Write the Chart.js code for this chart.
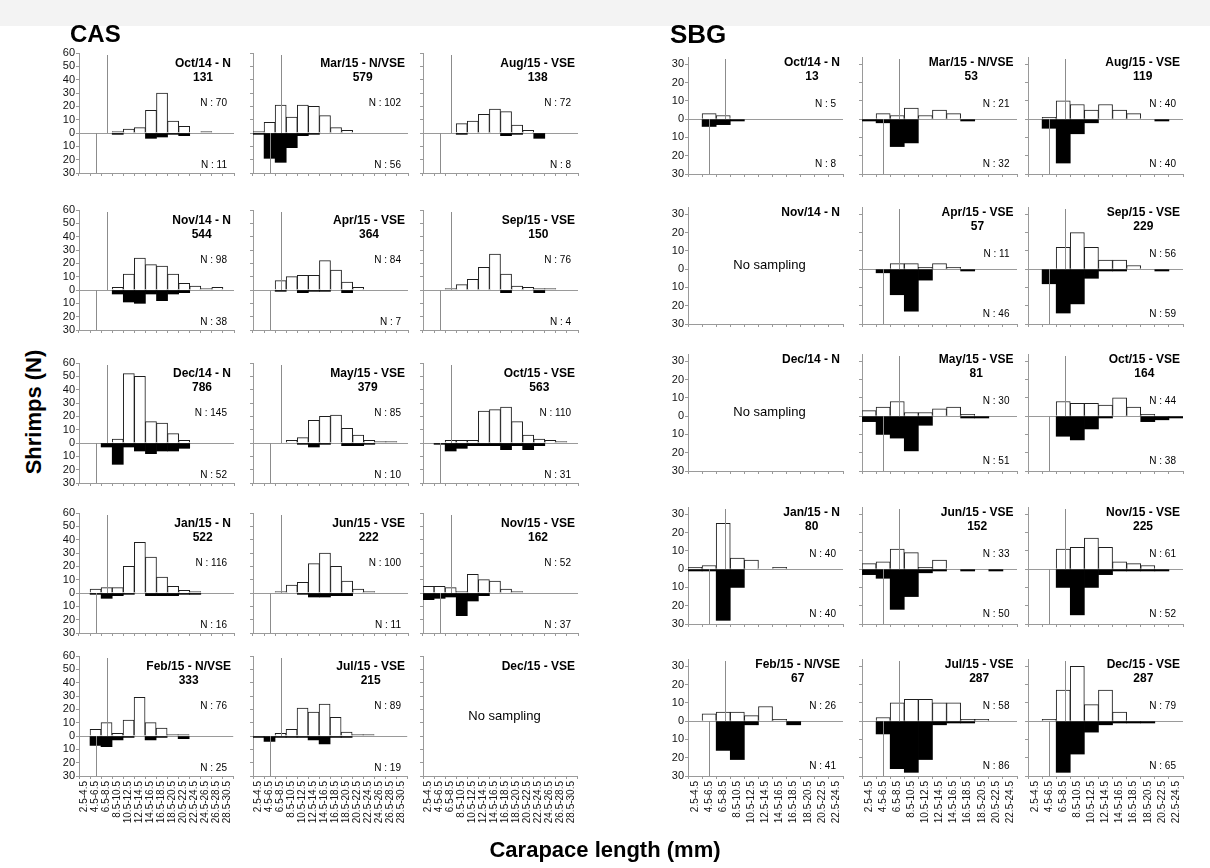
<!DOCTYPE html>
<html><head><meta charset="utf-8">
<script src="https://cdn.jsdelivr.net/npm/chart.js@4.4.1/dist/chart.umd.min.js"></script>
<style>
html,body{margin:0;padding:0}
body{width:1210px;height:868px;position:relative;background:#fff;overflow:hidden;font-family:"Liberation Sans",Arial,sans-serif;color:#000}
canvas{position:absolute}
.t{position:absolute;white-space:nowrap}
</style></head><body>
<div style="position:absolute;left:0;top:0;width:1210px;height:26px;background:#f3f3f3"></div>
<script>
// ---------- categories / ticks ----------
const casBins = ['2.5-4.5','4.5-6.5','6.5-8.5','8.5-10.5','10.5-12.5','12.5-14.5','14.5-16.5','16.5-18.5','18.5-20.5','20.5-22.5','22.5-24.5','24.5-26.5','26.5-28.5','28.5-30.5'];
const sbgBins = ['2.5-4.5','4.5-6.5','6.5-8.5','8.5-10.5','10.5-12.5','12.5-14.5','14.5-16.5','16.5-18.5','18.5-20.5','20.5-22.5','22.5-24.5'];
const casYTicks = [-30,-20,-10,0,10,20,30,40,50,60];
const sbgYTicks = [-30,-20,-10,0,10,20,30];

// ---------- CAS series (males up, females down) ----------
const casOct14M = [0,0,0,1,3,4,17,30,9,5,0,1,0,0];
const casOct14F = [0,0,0,1,0,0,4,3,1,2,0,0,0,0];
const casNov14M = [0,0,0,2,12,24,19,18,12,5,3,1,2,0];
const casNov14F = [0,0,0,3,9,10,3,8,3,2,0,0,0,0];
const casDec14M = [0,0,0,3,52,50,16,15,7,2,0,0,0,0];
const casDec14F = [0,0,3,16,3,6,8,6,6,4,0,0,0,0];
const casJan15M = [0,3,4,4,20,38,27,12,5,2,1,0,0,0];
const casJan15F = [0,1,4,2,1,0,2,2,2,1,1,0,0,0];
const casFeb15M = [0,5,10,2,12,29,10,6,1,1,0,0,0,0];
const casFeb15F = [0,7,8,3,1,0,3,1,0,2,0,0,0,0];
const casMar15M = [1,8,21,12,21,20,13,4,2,0,0,0,0,0];
const casMar15F = [1,19,22,11,2,1,0,0,0,0,0,0,0,0];
const casApr15M = [0,0,7,10,11,11,22,15,6,2,0,0,0,0];
const casApr15F = [0,0,1,0,2,1,1,0,2,0,0,0,0,0];
const casMay15M = [0,0,0,2,4,17,20,21,11,6,2,1,1,0];
const casMay15F = [0,0,0,0,1,3,1,0,2,2,1,0,0,0];
const casJun15M = [0,0,1,6,8,22,30,20,9,3,1,0,0,0];
const casJun15F = [0,0,0,0,1,3,3,2,2,0,0,0,0,0];
const casJul15M = [0,0,2,5,21,18,24,14,3,1,1,0,0,0];
const casJul15F = [1,4,1,1,1,3,6,1,1,0,0,0,0,0];
const casAug15M = [0,0,0,7,9,14,18,16,6,2,0,0,0,0];
const casAug15F = [0,0,0,1,0,0,0,2,1,0,4,0,0,0];
const casSep15M = [0,0,1,4,8,17,27,12,3,2,1,1,0,0];
const casSep15F = [0,0,0,0,0,0,0,2,0,0,2,0,0,0];
const casOct15M = [0,0,2,2,2,24,25,27,16,6,3,2,1,0];
const casOct15F = [0,1,6,4,2,2,2,5,2,5,2,0,0,0];
const casNov15M = [5,5,4,1,14,10,9,3,1,0,0,0,0,0];
const casNov15F = [5,4,3,17,6,2,0,0,0,0,0,0,0,0];

const casTitles = ['Oct/14 - N','Nov/14 - N','Dec/14 - N','Jan/15 - N','Feb/15 - N/VSE','Mar/15 - N/VSE','Apr/15 - VSE','May/15 - VSE','Jun/15 - VSE','Jul/15 - VSE','Aug/15 - VSE','Sep/15 - VSE','Oct/15 - VSE','Nov/15 - VSE','Dec/15 - VSE'];
const casTotals = [131,544,786,522,333,579,364,379,222,215,138,150,563,162,null];
const casNMales = [70,98,145,116,76,102,84,85,100,89,72,76,110,52,null];
const casNFemales = [11,38,52,16,25,56,7,10,11,19,8,4,31,37,null];
const casMales = [casOct14M,casNov14M,casDec14M,casJan15M,casFeb15M,casMar15M,casApr15M,casMay15M,casJun15M,casJul15M,casAug15M,casSep15M,casOct15M,casNov15M,null];
const casFemales = [casOct14F,casNov14F,casDec14F,casJan15F,casFeb15F,casMar15F,casApr15F,casMay15F,casJun15F,casJul15F,casAug15F,casSep15F,casOct15F,casNov15F,null];

// ---------- SBG series ----------
const sbgOct14M = [0,3,2,0,0,0,0,0,0,0,0];
const sbgOct14F = [0,4,3,1,0,0,0,0,0,0,0];
const sbgJan15M = [1,2,25,6,5,0,1,0,0,0,0];
const sbgJan15F = [1,1,28,10,0,0,0,0,0,0,0];
const sbgFeb15M = [0,4,5,5,3,8,1,0,0,0,0];
const sbgFeb15F = [0,0,16,21,2,0,0,2,0,0,0];
const sbgMar15M = [0,3,2,6,2,5,3,0,0,0,0];
const sbgMar15F = [1,2,15,13,0,0,0,1,0,0,0];
const sbgApr15M = [0,0,3,3,1,3,1,0,0,0,0];
const sbgApr15F = [0,2,14,23,6,0,0,1,0,0,0];
const sbgMay15M = [3,5,8,2,2,4,5,1,0,0,0];
const sbgMay15F = [3,10,12,19,5,0,0,1,1,0,0];
const sbgJun15M = [3,4,11,9,1,5,0,0,0,0,0];
const sbgJun15F = [3,5,22,15,2,1,0,1,0,1,0];
const sbgJul15M = [0,2,10,12,12,10,10,1,1,0,0];
const sbgJul15F = [0,7,26,28,21,2,1,1,0,0,0];
const sbgAug15M = [0,1,10,8,5,8,5,3,0,0,0];
const sbgAug15F = [0,5,24,8,2,0,0,0,0,1,0];
const sbgSep15M = [0,0,12,20,12,5,5,2,0,0,0];
const sbgSep15F = [0,8,24,19,5,1,1,0,0,1,0];
const sbgOct15M = [0,0,8,7,7,6,10,5,1,0,0];
const sbgOct15F = [0,0,11,13,7,1,0,0,3,2,1];
const sbgNov15M = [0,0,11,12,17,12,4,3,2,0,0];
const sbgNov15F = [0,0,10,25,10,3,1,1,1,1,0];
const sbgDec15M = [0,1,17,30,9,17,5,0,0,0,0];
const sbgDec15F = [0,0,28,18,6,2,1,1,1,0,0];

const sbgTitles = ['Oct/14 - N','Nov/14 - N','Dec/14 - N','Jan/15 - N','Feb/15 - N/VSE','Mar/15 - N/VSE','Apr/15 - VSE','May/15 - VSE','Jun/15 - VSE','Jul/15 - VSE','Aug/15 - VSE','Sep/15 - VSE','Oct/15 - VSE','Nov/15 - VSE','Dec/15 - VSE'];
const sbgTotals = [13,null,null,80,67,53,57,81,152,287,119,229,164,225,287];
const sbgNMales = [5,null,null,40,26,21,11,30,33,58,40,56,44,61,79];
const sbgNFemales = [8,null,null,40,41,32,46,51,50,86,40,59,38,52,65];
const sbgMales = [sbgOct14M,null,null,sbgJan15M,sbgFeb15M,sbgMar15M,sbgApr15M,sbgMay15M,sbgJun15M,sbgJul15M,sbgAug15M,sbgSep15M,sbgOct15M,sbgNov15M,sbgDec15M];
const sbgFemales = [sbgOct14F,null,null,sbgJan15F,sbgFeb15F,sbgMar15F,sbgApr15F,sbgMay15F,sbgJun15F,sbgJul15F,sbgAug15F,sbgSep15F,sbgOct15F,sbgNov15F,sbgDec15F];

// reference lines (in bin units from the axis origin)
const casRefLines = [2.5, 1.5];
const sbgRefLines = [2.6, 1.5];

// ---------- layout ----------
Chart.defaults.font.family = '"Liberation Sans", Arial, sans-serif';
Chart.defaults.color = '#111';
const AXIS = '#9a9a9a';

const groups = [
  {bins:casBins, yTicks:casYTicks, min:-30, max:60, px:80/60, left:[79,253,423], zero:[133,290,443,593,736],
   titles:casTitles, totals:casTotals, nm:casNMales, nf:casNFemales, males:casMales, females:casFemales, refs:casRefLines,
   nUp:-30, nLow:32, titleTop:-77},
  {bins:sbgBins, yTicks:sbgYTicks, min:-30, max:34, px:55/30, left:[688,861.5,1028], zero:[119,269,416,569,721],
   titles:sbgTitles, totals:sbgTotals, nm:sbgNMales, nf:sbgNFemales, males:sbgMales, females:sbgFemales, refs:sbgRefLines,
   nUp:-15, nLow:45, titleTop:-64}
];
const PW = 155;

const refLinePlugin = {
  id:'refLines',
  afterDatasetsDraw(chart, args, opts){
    if(!opts.show) return;
    const {ctx, chartArea, scales} = chart;
    const x = scales.x, y = scales.y;
    const z = y.getPixelForValue(0);
    const xm = Math.round(x.getPixelForValue(opts.male - 0.5)) + 0.5;
    const xf = Math.round(x.getPixelForValue(opts.female - 0.5)) + 0.5;
    ctx.save();
    ctx.strokeStyle = '#8c8c8c'; ctx.lineWidth = 1;
    ctx.beginPath();
    ctx.moveTo(xm, chartArea.top + 2); ctx.lineTo(xm, z);
    ctx.moveTo(xf, z); ctx.lineTo(xf, chartArea.bottom);
    ctx.stroke();
    ctx.restore();
  }
};

function addText(txt, css, html){
  const d = document.createElement('div');
  d.className = 't';
  if(html) d.innerHTML = txt; else d.textContent = txt;
  Object.assign(d.style, css);
  document.body.appendChild(d);
  return d;
}

groups.forEach(g => {
  for(let i=0;i<15;i++){
    const col = Math.floor(i/5), row = i%5;
    const sampled = !!g.males[i];
    const plotLeft = g.left[col];
    const Z = g.zero[row];
    const plotTop = Z - g.max*g.px;
    const plotBottom = Z - g.min*g.px;
    const yw = col===0 ? 30 : 8;
    const padTop = 10, padRight = 8;
    const xh = row===4 ? 64 : 8;
    const cw = yw + PW + padRight;
    const ch = padTop + (plotBottom-plotTop) + xh;
    const cv = document.createElement('canvas');
    cv.width = Math.round(cw); cv.height = Math.round(ch);
    cv.style.left = (plotLeft - yw) + 'px';
    cv.style.top = (plotTop - padTop) + 'px';
    cv.style.width = Math.round(cw) + 'px'; cv.style.height = Math.round(ch) + 'px';
    document.body.appendChild(cv);

    const males = sampled ? g.males[i].map(v => v ? v : null) : [];
    const females = sampled ? g.females[i].map(v => v ? -v : null) : [];

    new Chart(cv, {
      type:'bar',
      data:{labels:g.bins, datasets:[
        {data:females, backgroundColor:'#000', borderColor:'#000', borderWidth:0, grouped:false, barPercentage:1, categoryPercentage:1, order:2},
        {data:males, backgroundColor:'#fff', borderColor:'#1e1e1e', borderWidth:1, borderSkipped:'start', grouped:false, barPercentage:1, categoryPercentage:1, order:1}
      ]},
      options:{
        responsive:false, animation:false, devicePixelRatio:1,
        layout:{padding:{top:padTop, right:padRight, left:0, bottom:0}},
        plugins:{legend:{display:false}, tooltip:{enabled:false},
          refLines:{show:sampled, male:g.refs[0], female:g.refs[1]}},
        scales:{
          x:{offset:true,
             grid:{display:true, drawOnChartArea:false, drawTicks:true, tickLength:3, color:AXIS, offset:true},
             border:{display:true, color:AXIS, width:1},
             ticks:{display:row===4, autoSkip:false, minRotation:90, maxRotation:90, font:{size:10}, color:'#111', padding:2},
             afterFit:s => { s.height = xh; }},
          y:{min:g.min, max:g.max,
             afterBuildTicks:s => { s.ticks = g.yTicks.map(v => ({value:v})); },
             grid:{drawOnChartArea:true, drawTicks:true, tickLength:3, tickColor:AXIS,
                   color:c => (sampled && c.tick && c.tick.value===0) ? AXIS : 'rgba(0,0,0,0)'},
             border:{display:true, color:AXIS, width:1},
             ticks:{display:col===0, autoSkip:false, callback:v => Math.abs(v), font:{size:11}, color:'#111', padding:1},
             afterFit:s => { s.width = yw; }}
        }
      },
      plugins:[refLinePlugin]
    });

    const plotRight = plotLeft + PW;
    const titleHtml = g.titles[i] + (g.totals[i]!=null ? '<br>' + g.totals[i] : '');
    addText(titleHtml, {right:(1210 - (plotRight - 3)) + 'px', top:(Z + g.titleTop) + 'px',
      fontWeight:'bold', fontSize:'12px', lineHeight:'14px', textAlign:'center'}, true);
    if(sampled){
      addText('N : ' + g.nm[i], {right:(1210 - (plotRight - 7)) + 'px', top:(Z + g.nUp - 6) + 'px', fontSize:'10px', lineHeight:'12px'});
      addText('N : ' + g.nf[i], {right:(1210 - (plotRight - 7)) + 'px', top:(Z + g.nLow - 6) + 'px', fontSize:'10px', lineHeight:'12px'});
    } else {
      const cx = plotLeft + PW/2 + 4, cy = (plotTop + plotBottom)/2;
      const d = addText('No sampling', {left:cx+'px', top:(cy-8)+'px', fontSize:'13px', lineHeight:'16px'});
      d.style.transform = 'translateX(-50%)';
    }
  }
});

addText('CAS', {left:'70px', top:'22px', fontWeight:'bold', fontSize:'24px', lineHeight:'24px'});
addText('SBG', {left:'670px', top:'21px', fontWeight:'bold', fontSize:'26px', lineHeight:'26px'});
const yt = addText('Shrimps (N)', {left:'34px', top:'412px', fontWeight:'bold', fontSize:'22px', lineHeight:'24px'});
yt.style.transform = 'translate(-50%,-50%) rotate(-90deg)';
const xt = addText('Carapace length (mm)', {left:'605px', top:'850px', fontWeight:'bold', fontSize:'22px', lineHeight:'24px'});
xt.style.transform = 'translate(-50%,-50%)';
</script>
</body></html>
